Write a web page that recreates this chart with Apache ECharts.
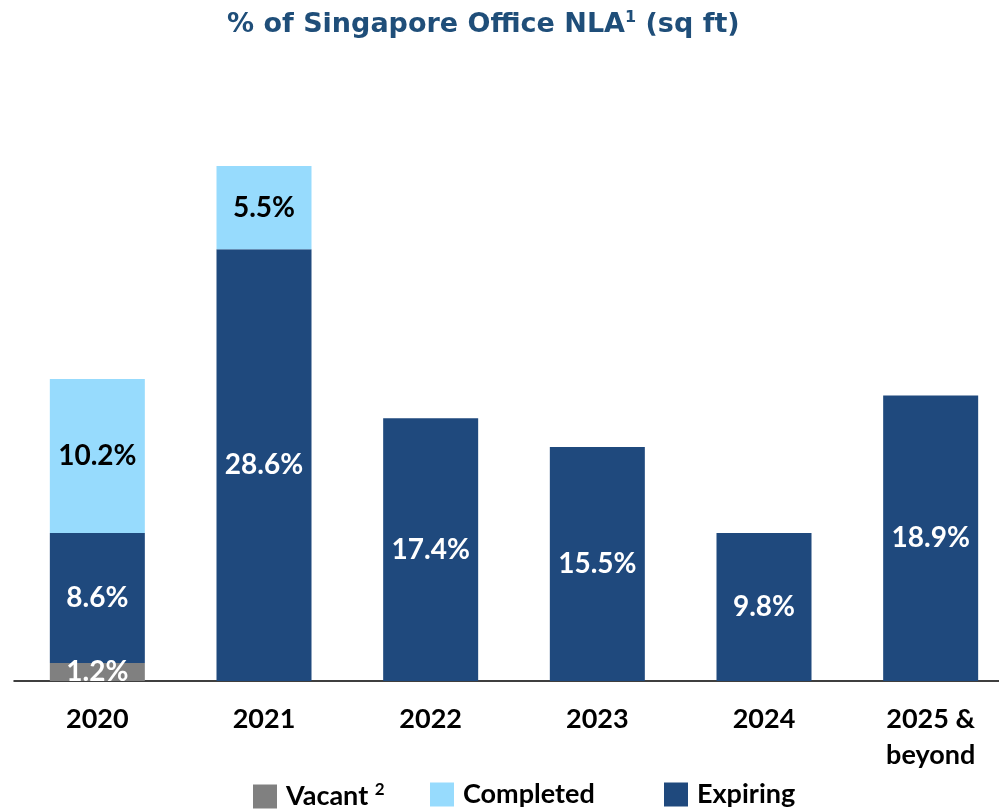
<!DOCTYPE html>
<html>
<head>
<meta charset="utf-8">
<script src="https://cdn.jsdelivr.net/npm/echarts@6/dist/echarts.min.js"></script>
<style>
  html, body { margin: 0; padding: 0; background: #fff; overflow: hidden; }
  /* the plot runs past the right edge in the original, so the canvas is a bit wider than the window */
  #chart { width: 1015px; height: 809px; }
</style>
</head>
<body>
<div id="chart"></div>
<script>
// categories and values
const years = ['2020', '2021', '2022', '2023', '2024', '2025 &\nbeyond'];
const vacant = [1.2, null, null, null, null, null];
const expiring = [8.6, 28.6, 17.4, 15.5, 9.8, 18.9];
const completed = [10.2, 5.5, null, null, null, null];

const FONT = 'Lato';
const DARK = '#1f497d';
const LIGHT = '#97dbfd';
const GREY = '#808080';

const chart = echarts.init(document.getElementById('chart'));

function barLabel(color) {
  return {
    show: true,
    position: 'inside',
    color: color,
    fontFamily: FONT,
    fontWeight: 'bold',
    fontSize: 28,
    formatter: (p) => p.value + '%',
  };
}

function legendAt(name, left, rich) {
  return {
    data: [name],
    left: left,
    top: 776,
    itemWidth: 24,
    itemHeight: 24,
    itemGap: 0,
    icon: 'rect',
    textStyle: {
      fontFamily: FONT,
      fontWeight: 'bold',
      fontSize: 27,
      color: '#000',
      padding: [0, 0, 0, 4],
      rich: rich,
    },
    formatter: (n) => (n === 'Vacant' ? 'Vacant {sup|2}' : n),
  };
}

const supStyle = {
  sup: {
    fontFamily: FONT,
    fontWeight: 'bold',
    fontSize: 17,
    color: '#000',
    padding: [0, 0, 14, 0],
  },
};

const option = {
  animation: false,
  title: {
    text: '% of Singapore Office NLA{s|1} (sq ft)',
    left: 222,
    top: 5,
    textStyle: {
      fontFamily: 'DejaVu Sans',
      fontWeight: 'bold',
      fontSize: 27,
      color: '#1f4e79',
      rich: {
        s: {
          fontFamily: 'DejaVu Sans',
          fontWeight: 'bold',
          fontSize: 16,
          color: '#1f4e79',
          padding: [0, 0, 14, 0],
        },
      },
    },
  },
  legend: [
    legendAt('Vacant', 248, supStyle),
    legendAt('Completed', 425),
    legendAt('Expiring', 659),
  ],
  grid: {
    left: 14,
    top: 77,
    right: 1,
    bottom: 128,
  },
  xAxis: {
    type: 'category',
    data: years,
    axisLine: { lineStyle: { color: '#000', width: 1.5 } },
    axisTick: { show: false },
    axisLabel: {
      interval: 0,
      margin: 20,
      color: '#000',
      fontFamily: FONT,
      fontWeight: 'bold',
      fontSize: 27,
      lineHeight: 36,
    },
  },
  yAxis: {
    type: 'value',
    min: 0,
    max: 40,
    show: false,
    splitLine: { show: false },
  },
  series: [
    {
      name: 'Vacant',
      type: 'bar',
      stack: 'total',
      barWidth: 95,
      data: vacant,
      itemStyle: { color: GREY },
      label: barLabel('#fff'),
    },
    {
      name: 'Expiring',
      type: 'bar',
      stack: 'total',
      barWidth: 95,
      data: expiring,
      itemStyle: { color: DARK },
      label: barLabel('#fff'),
    },
    {
      name: 'Completed',
      type: 'bar',
      stack: 'total',
      barWidth: 95,
      data: completed,
      itemStyle: { color: LIGHT },
      label: barLabel('#000'),
    },
  ],
};

chart.setOption(option);
</script>
</body>
</html>
